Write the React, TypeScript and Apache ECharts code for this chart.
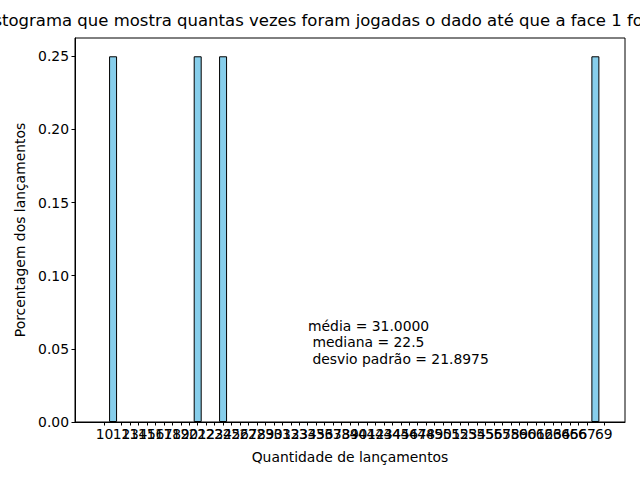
import React, { useEffect, useRef } from "react";
import * as echarts from "echarts";

const throwCounts = [11, 21, 24, 68];
const shares = [0.25, 0.25, 0.25, 0.25];
const xTicks = [
  10, 11, 12, 13, 14, 15, 16, 17, 18, 19, 20, 21, 22, 23, 24, 25, 26, 27, 28, 29,
  30, 31, 32, 33, 34, 35, 36, 37, 38, 39, 40, 41, 42, 43, 44, 45, 46, 47, 48, 49,
  50, 51, 52, 53, 54, 55, 56, 57, 58, 59, 60, 61, 62, 63, 64, 65, 66, 67, 68, 69,
];
const yTicks = [0, 0.05, 0.1, 0.15, 0.2, 0.25];
const titleText =
  "Histograma que mostra quantas vezes foram jogadas o dado até que a face 1 fosse obtida";
const statsText = "média = 31.0000\n mediana = 22.5\n desvio padrão = 21.8975";

const FONT = "DejaVu Sans";
const FS = 13.9;

export default function App() {
  const ref = useRef<HTMLDivElement>(null);
  useEffect(() => {
    if (!ref.current) return;
    const chart = echarts.init(ref.current, null, { renderer: "svg" });
    chart.setOption({
      animation: false,
      backgroundColor: "#ffffff",
      textStyle: { fontFamily: FONT },
      title: {
        text: titleText,
        left: 347,
        top: 7,
        textAlign: "center",
        textStyle: { fontFamily: FONT, fontSize: 16.5, fontWeight: "normal", color: "#000" },
      },
      grid: {
        left: 75,
        right: 15,
        top: 38,
        bottom: 58,
        show: true,
        borderColor: "#000",
        borderWidth: 1,
        backgroundColor: "transparent",
      },
      xAxis: {
        type: "value",
        min: 6.5,
        max: 71.5,
        name: "Quantidade de lançamentos",
        nameLocation: "middle",
        nameGap: 28,
        nameTextStyle: { fontFamily: FONT, fontSize: FS, color: "#000" },
        axisLine: { show: true, lineStyle: { color: "#000", width: 1 } },
        axisTick: { show: true, length: 3.5, customValues: xTicks, lineStyle: { color: "#000" } },
        axisLabel: {
          customValues: xTicks,
          showMinLabel: true,
          showMaxLabel: true,
          hideOverlap: false,
          margin: 5,
          fontFamily: FONT,
          fontSize: FS,
          color: "#000",
          formatter: (v: number) => String(v),
        },
        splitLine: { show: false },
      },
      yAxis: {
        type: "value",
        min: 0,
        max: 0.2625,
        name: "Porcentagem dos lançamentos",
        nameLocation: "middle",
        nameGap: 48,
        nameTextStyle: { fontFamily: FONT, fontSize: FS, color: "#000" },
        axisLine: { show: true, lineStyle: { color: "#000", width: 1 } },
        axisTick: { show: true, length: 3.5, customValues: yTicks, lineStyle: { color: "#000" } },
        axisLabel: {
          customValues: yTicks,
          showMinLabel: true,
          margin: 6,
          fontFamily: FONT,
          fontSize: FS,
          color: "#000",
          formatter: (v: number) => v.toFixed(2),
        },
        splitLine: { show: false },
      },
      series: [
        {
          type: "bar",
          data: throwCounts.map((c, i) => [c, shares[i]]),
          barWidth: 8,
          itemStyle: { color: "#87CEEB", borderColor: "#000", borderWidth: 1 },
        },
      ],
      graphic: [
        {
          type: "text",
          left: 308,
          top: 318,
          style: {
            text: statsText,
            fontFamily: FONT,
            fontSize: FS,
            lineHeight: 16.3,
            fill: "#000",
          },
        },
      ],
    });
    return () => chart.dispose();
  }, []);
  return (
    <div
      ref={ref}
      style={{ position: "fixed", left: 0, top: 0, width: 640, height: 480 }}
    />
  );
}
